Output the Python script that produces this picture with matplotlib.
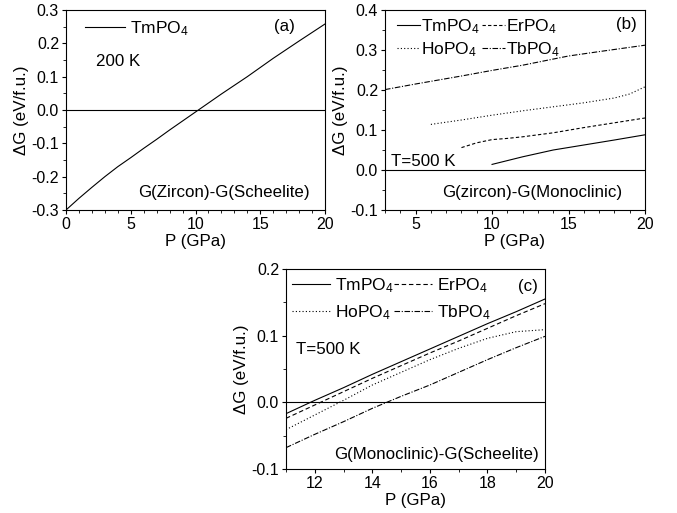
import numpy as np
import matplotlib
matplotlib.use('Agg')
import matplotlib.pyplot as plt
from matplotlib.ticker import MultipleLocator

plt.rcParams['font.family'] = ['Liberation Sans', 'DejaVu Sans']
plt.rcParams['mathtext.fontset'] = 'custom'
plt.rcParams['mathtext.rm'] = 'Liberation Sans'
plt.rcParams['mathtext.it'] = 'Liberation Sans'

# (a) G(Zircon)-G(Scheelite), 200 K
a_p = [0, 1, 2, 3, 4, 5, 6, 7, 8, 9, 10, 12, 14, 16, 18, 20]
a_tm = [-0.300, -0.265, -0.232, -0.200, -0.170, -0.143, -0.115, -0.088, -0.060,
        -0.033, -0.006, 0.048, 0.100, 0.155, 0.207, 0.258]

# (b) G(zircon)-G(Monoclinic), 500 K
b_tm_p = [10, 12, 14, 16, 18, 20]
b_tm = [0.014, 0.033, 0.050, 0.0625, 0.075, 0.088]
b_er_p = [8, 9, 10, 11, 12, 14, 16, 18, 20]
b_er = [0.056, 0.068, 0.076, 0.079, 0.083, 0.093, 0.106, 0.118, 0.130]
b_ho_p = [6, 8, 10, 12, 14, 16, 18, 19, 20]
b_ho = [0.114, 0.125, 0.137, 0.148, 0.158, 0.168, 0.180, 0.190, 0.208]
b_tb_p = [3, 5, 8, 10, 12, 15, 17, 20]
b_tb = [0.201, 0.215, 0.235, 0.249, 0.262, 0.285, 0.296, 0.312]

# (c) G(Monoclinic)-G(Scheelite), 500 K
c_p = [11, 12, 13, 14, 15, 16, 17, 18, 19, 20]
c_tm = [-0.017, 0.003, 0.022, 0.042, 0.061, 0.080, 0.099, 0.118, 0.136, 0.155]
c_er = [-0.024, -0.004, 0.016, 0.036, 0.055, 0.074, 0.092, 0.111, 0.130, 0.148]
c_ho = [-0.041, -0.019, 0.003, 0.026, 0.045, 0.064, 0.081, 0.096, 0.106, 0.109]
c_tb = [-0.068, -0.048, -0.029, -0.009, 0.009, 0.026, 0.045, 0.064, 0.082, 0.099]

names = ['TmPO$_4$', 'ErPO$_4$', 'HoPO$_4$', 'TbPO$_4$']
styles = ['-', (0, (4, 2.5)), (0, (1, 2)), (0, (5, 1.5, 1, 1.5))]
lw = 0.8
fs = 12.2

W, H = 677, 513
fig = plt.figure(figsize=(W / 100, H / 100), dpi=100)

def box(l, r, t, b):
    return [l / W, 1 - b / H, (r - l) / W, (b - t) / H]

def style_ax(ax, xmaj, ymaj, xmin, ymin):
    ax.xaxis.set_major_locator(MultipleLocator(xmaj))
    ax.xaxis.set_minor_locator(MultipleLocator(xmin))
    ax.yaxis.set_major_locator(MultipleLocator(ymaj))
    ax.yaxis.set_minor_locator(MultipleLocator(ymin))
    ax.yaxis.set_major_formatter(plt.FormatStrFormatter('%.1f'))
    ax.tick_params(which='major', direction='out', length=3, width=0.8, labelsize=11.5, pad=2)
    ax.tick_params(which='minor', direction='out', length=2, width=0.6)
    for s in ax.spines.values():
        s.set_linewidth(0.8)
    ax.axhline(0, color='k', lw=lw)
    ax.set_xlabel('P (GPa)', fontsize=fs, labelpad=1.5)
    ax.set_ylabel('ΔG (eV/f.u.)', fontsize=fs, labelpad=2)

######  (a)  #####
ax = fig.add_axes(box(66, 325, 10, 210))
ax.plot(a_p, a_tm, color='k', lw=lw, label=names[0])
ax.set_xlim(0, 20)
ax.set_ylim(-0.3, 0.3)
style_ax(ax, 5, 0.1, 1, 0.05)
ax.legend(loc='upper left', bbox_to_anchor=(0.045, 0.99), frameon=False, fontsize=12.5,
          handlelength=2.3, handletextpad=0.3, borderaxespad=0)
ax.text(0.845, 0.915, '(a)', transform=ax.transAxes, ha='center', va='center', fontsize=fs)
ax.text(0.116, 0.74, '200 K', transform=ax.transAxes, ha='left', va='center', fontsize=fs)
ax.text(0.942, 0.085, 'G(Zircon)-G(Scheelite)', transform=ax.transAxes, ha='right',
        va='center', fontsize=fs)

######  (b)  #####
ax = fig.add_axes(box(385, 645, 10, 210))
ax.plot(b_tm_p, b_tm, color='k', lw=lw, ls=styles[0], label=names[0])
ax.plot(b_ho_p, b_ho, color='k', lw=lw, ls=styles[2], label=names[2])
ax.plot(b_er_p, b_er, color='k', lw=lw, ls=(0, (3, 2)), label=names[1])
ax.plot(b_tb_p, b_tb, color='k', lw=lw, ls=styles[3], label=names[3])
ax.set_xlim(3, 20)
ax.set_ylim(-0.1, 0.4)
style_ax(ax, 5, 0.1, 1, 0.05)
ax.legend(loc='upper left', bbox_to_anchor=(0.02, 1.0), ncol=2, frameon=False, fontsize=12.5,
          handlelength=1.3, handletextpad=0.1, columnspacing=0.1, labelspacing=0.25,
          borderaxespad=0)
ax.text(0.93, 0.925, '(b)', transform=ax.transAxes, ha='center', va='center', fontsize=fs)
ax.text(0.023, 0.24, 'T=500 K', transform=ax.transAxes, ha='left', va='center', fontsize=fs)
ax.text(0.912, 0.09, 'G(zircon)-G(Monoclinic)', transform=ax.transAxes, ha='right',
        va='center', fontsize=fs)

######  (c)  #####
ax = fig.add_axes(box(286, 545, 269, 469))
ax.plot(c_p, c_tm, color='k', lw=lw, ls=styles[0], label=names[0])
ax.plot(c_p, c_ho, color='k', lw=lw, ls=styles[2], label=names[2])
ax.plot(c_p, c_er, color='k', lw=lw, ls=styles[1], label=names[1])
ax.plot(c_p, c_tb, color='k', lw=lw, ls=styles[3], label=names[3])
ax.set_xlim(11, 20)
ax.set_ylim(-0.1, 0.2)
style_ax(ax, 2, 0.1, 1, 0.05)
ax.legend(loc='upper left', bbox_to_anchor=(-0.005, 1.0), ncol=2, frameon=False, fontsize=12.5,
          handlelength=2.2, handletextpad=0.3, columnspacing=0.0, labelspacing=0.5,
          borderaxespad=0)
ax.text(0.934, 0.915, '(c)', transform=ax.transAxes, ha='center', va='center', fontsize=fs)
ax.text(0.039, 0.595, 'T=500 K', transform=ax.transAxes, ha='left', va='center', fontsize=fs)
ax.text(0.977, 0.075, 'G(Monoclinic)-G(Scheelite)', transform=ax.transAxes, ha='right',
        va='center', fontsize=fs)

plt.savefig('out.png', dpi=100)
plt.close()
